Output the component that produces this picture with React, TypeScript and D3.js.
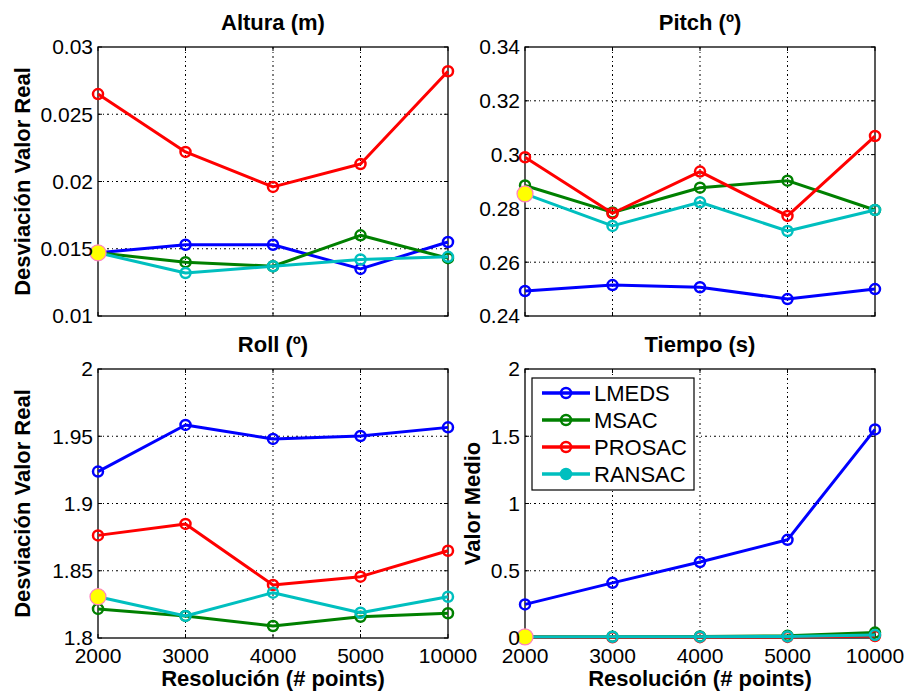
import * as d3 from "d3"

const categories = ["2000", "3000", "4000", "5000", "10000"]
const seriesNames = ["LMEDS", "MSAC", "PROSAC", "RANSAC"]
const seriesColors = ["#0000ff", "#008000", "#ff0000", "#00bfbf"]

// Altura (m)
const alturaLMEDS = [0.0147, 0.0153, 0.0153, 0.0135, 0.0155]
const alturaMSAC = [0.0147, 0.014, 0.0137, 0.016, 0.0143]
const alturaPROSAC = [0.0265, 0.0222, 0.0196, 0.0213, 0.0282]
const alturaRANSAC = [0.0147, 0.0132, 0.0137, 0.0142, 0.0144]
const alturaTicks = [0.01, 0.015, 0.02, 0.025, 0.03]
const alturaTickLabels = ["0.01", "0.015", "0.02", "0.025", "0.03"]

// Pitch (º)
const pitchLMEDS = [0.2493, 0.2515, 0.2507, 0.2463, 0.25]
const pitchMSAC = [0.2885, 0.2785, 0.2877, 0.2903, 0.2794]
const pitchPROSAC = [0.299, 0.2782, 0.2937, 0.2772, 0.3069]
const pitchRANSAC = [0.2854, 0.2735, 0.2823, 0.2716, 0.2794]
const pitchTicks = [0.24, 0.26, 0.28, 0.3, 0.32, 0.34]
const pitchTickLabels = ["0.24", "0.26", "0.28", "0.3", "0.32", "0.34"]

// Roll (º)
const rollLMEDS = [1.9237, 1.9584, 1.948, 1.9502, 1.9566]
const rollMSAC = [1.8216, 1.8164, 1.8089, 1.8158, 1.8184]
const rollPROSAC = [1.8763, 1.8848, 1.8394, 1.8456, 1.8649]
const rollRANSAC = [1.8307, 1.8164, 1.8337, 1.8188, 1.8307]
const rollTicks = [1.8, 1.85, 1.9, 1.95, 2]
const rollTickLabels = ["1.8", "1.85", "1.9", "1.95", "2"]

// Tiempo (s)
const tiempoLMEDS = [0.25, 0.41, 0.565, 0.73, 1.551]
const tiempoMSAC = [0.01, 0.01, 0.012, 0.016, 0.04]
const tiempoPROSAC = [0.005, 0.005, 0.006, 0.008, 0.015]
const tiempoRANSAC = [0.008, 0.009, 0.01, 0.012, 0.022]
const tiempoTicks = [0, 0.5, 1, 1.5, 2]
const tiempoTickLabels = ["0", "0.5", "1", "1.5", "2"]

const FONT = "'Liberation Sans', Arial, Helvetica, sans-serif"

type PanelProps = {
  left: number
  top: number
  title: string
  yLabel?: string
  yLabelX?: number
  series: number[][]
  domain: [number, number]
  ticks: number[]
  tickLabels: string[]
  showX: boolean
  legend?: boolean
}

const W = 350
const H = 269

function Panel({ left, top, title, yLabel, yLabelX = 0, series, domain, ticks, tickLabels, showX, legend }: PanelProps) {
  const x = d3.scalePoint<string>().domain(categories).range([0, W]).padding(0)
  const y = d3.scaleLinear().domain(domain).range([H, 0])
  const line = d3
    .line<number>()
    .x((_, i) => x(categories[i]) as number)
    .y((d) => y(d))

  return (
    <g transform={`translate(${left},${top})`}>
      <rect x={0} y={0} width={W} height={H} fill="#fff" />
      {/* grid */}
      {categories.slice(1, -1).map((c) => (
        <line key={c} x1={x(c)} x2={x(c)} y1={0} y2={H} stroke="#000" strokeWidth={1} strokeDasharray="2,3,1,3" />
      ))}
      {ticks.slice(1, -1).map((t) => (
        <line key={t} x1={0} x2={W} y1={y(t)} y2={y(t)} stroke="#000" strokeWidth={1} strokeDasharray="2,3,1,3" />
      ))}
      {/* ticks */}
      {ticks.map((t) => (
        <g key={"t" + t}>
          <line x1={0} x2={4} y1={y(t)} y2={y(t)} stroke="#000" />
          <line x1={W - 4} x2={W} y1={y(t)} y2={y(t)} stroke="#000" />
        </g>
      ))}
      {categories.map((c) => (
        <g key={"c" + c}>
          <line x1={x(c)} x2={x(c)} y1={H - 4} y2={H} stroke="#000" />
          <line x1={x(c)} x2={x(c)} y1={0} y2={4} stroke="#000" />
        </g>
      ))}
      <rect x={0} y={0} width={W} height={H} fill="none" stroke="#000" strokeWidth={1.3} />
      {/* series */}
      {series.map((s, i) => (
        <g key={seriesNames[i]}>
          <path d={line(s) || ""} fill="none" stroke={seriesColors[i]} strokeWidth={3} strokeLinejoin="round" />
          {s.map((v, j) => (
            <circle key={j} cx={x(categories[j])} cy={y(v)} r={5} fill="none" stroke={seriesColors[i]} strokeWidth={2.5} />
          ))}
        </g>
      ))}
      <circle
        cx={x(categories[0])}
        cy={y(series[3][0])}
        r={8}
        fill="#ffff00"
        stroke="#ff80c0"
        strokeWidth={1.2}
      />
      {/* y tick labels */}
      {ticks.map((t, i) => (
        <text key={"l" + t} x={-5} y={y(t)} dy="0.35em" textAnchor="end" fontSize={21} fontFamily={FONT} fill="#000">
          {tickLabels[i]}
        </text>
      ))}
      {showX &&
        categories.map((c) => (
          <text key={"x" + c} x={x(c)} y={H + 25} textAnchor="middle" fontSize={21} fontFamily={FONT} fill="#000">
            {c}
          </text>
        ))}
      {showX && (
        <text x={W / 2} y={H + 48} textAnchor="middle" fontSize={22} fontWeight="bold" fontFamily={FONT} fill="#000">
          Resolución (# points)
        </text>
      )}
      <text x={W / 2} y={-17} textAnchor="middle" fontSize={22} fontWeight="bold" fontFamily={FONT} fill="#000">
        {title}
      </text>
      {yLabel && (
        <text
          transform={`translate(${yLabelX - left},${H / 2}) rotate(-90)`}
          dy="0.35em"
          textAnchor="middle"
          fontSize={22}
          fontWeight="bold"
          fontFamily={FONT}
          fill="#000"
        >
          {yLabel}
        </text>
      )}
      {legend && (
        <g transform="translate(7,9)">
          <rect x={0} y={0} width={162} height={112} fill="#fff" stroke="#000" strokeWidth={1.2} />
          {seriesNames.map((n, i) => (
            <g key={n} transform={`translate(0,${15 + i * 27})`}>
              <line x1={10} x2={58} y1={0} y2={0} stroke={seriesColors[i]} strokeWidth={3.5} />
              <circle cx={34} cy={0} r={5} fill={i === 3 ? seriesColors[i] : "none"} stroke={seriesColors[i]} strokeWidth={2.5} />
              <text x={62} y={0} dy="0.36em" fontSize={22} fontFamily={FONT} fill="#000">
                {n}
              </text>
            </g>
          ))}
        </g>
      )}
    </g>
  )
}

export default function App() {
  return (
    <svg width={906} height={697} style={{ position: "absolute", left: 0, top: 0, background: "#fff" }}>
      <Panel
        left={98}
        top={47}
        title="Altura (m)"
        yLabel="Desviación Valor Real"
        yLabelX={22}
        series={[alturaLMEDS, alturaMSAC, alturaPROSAC, alturaRANSAC]}
        domain={[0.01, 0.03]}
        ticks={alturaTicks}
        tickLabels={alturaTickLabels}
        showX={false}
      />
      <Panel
        left={525}
        top={47}
        title="Pitch (º)"
        series={[pitchLMEDS, pitchMSAC, pitchPROSAC, pitchRANSAC]}
        domain={[0.24, 0.34]}
        ticks={pitchTicks}
        tickLabels={pitchTickLabels}
        showX={false}
      />
      <Panel
        left={98}
        top={369}
        title="Roll (º)"
        yLabel="Desviación Valor Real"
        yLabelX={22}
        series={[rollLMEDS, rollMSAC, rollPROSAC, rollRANSAC]}
        domain={[1.8, 2]}
        ticks={rollTicks}
        tickLabels={rollTickLabels}
        showX={true}
      />
      <Panel
        left={525}
        top={369}
        title="Tiempo (s)"
        yLabel="Valor Medio"
        yLabelX={472}
        series={[tiempoLMEDS, tiempoMSAC, tiempoPROSAC, tiempoRANSAC]}
        domain={[0, 2]}
        ticks={tiempoTicks}
        tickLabels={tiempoTickLabels}
        showX={true}
        legend={true}
      />
    </svg>
  )
}
